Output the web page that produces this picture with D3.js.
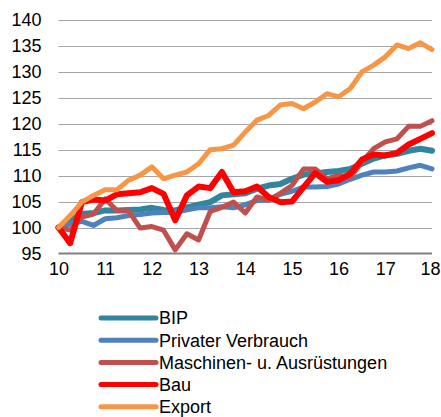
<!DOCTYPE html>
<html>
<head>
<meta charset="utf-8">
<script src="https://cdn.jsdelivr.net/npm/d3@7"></script>
<style>
  body { margin: 0; background: #fff; }
  text { font-family: "Liberation Sans", Arial, sans-serif; fill: #000; }
</style>
</head>
<body>
<div id="chart"></div>
<script>
// quarterly index, 2010 = 100
const yearTicks = [10, 11, 12, 13, 14, 15, 16, 17, 18];
const yTicks = [95, 100, 105, 110, 115, 120, 125, 130, 135, 140];
const seriesNames = ['BIP', 'Privater Verbrauch', 'Maschinen- u. Ausrüstungen', 'Bau', 'Export'];
const seriesColors = ['#31859c', '#4f81bd', '#c0504d', '#ff0000', '#f79646'];

const bip = [100, 101.4, 102.6, 102.8, 103.3, 103.3, 103.4, 103.5, 103.8, 103.4, 103.3, 103.9, 104.4, 104.9, 106.2,
  106.4, 106.6, 107.5, 108.1, 108.4, 109.4, 110.2, 110.4, 110.7, 110.9, 111.3, 112.3, 113.3, 113.9, 114.2, 114.8, 115.2, 114.8];
const privat = [100, 100.7, 101.2, 100.4, 101.7, 101.9, 102.3, 102.5, 102.8, 102.9, 102.9, 103.4, 103.8, 103.8, 104.0,
  103.8, 104.4, 105.2, 105.3, 106.4, 107.0, 107.8, 107.8, 107.9, 108.4, 109.3, 110.1, 110.7, 110.7, 110.9, 111.5, 112.0, 111.3];
const maschinen = [100, 99.5, 102.0, 102.6, 105.5, 103.3, 103.2, 99.9, 100.2, 99.5, 95.7, 98.8, 97.6, 103.1, 103.9,
  104.9, 102.8, 105.9, 105.3, 106.6, 108.1, 111.3, 111.3, 109.4, 110.1, 109.7, 112.6, 115.2, 116.5, 117.1, 119.5, 119.5, 120.6];
const bau = [100, 97.0, 104.9, 105.4, 105.2, 106.4, 106.6, 106.8, 107.6, 106.5, 101.4, 106.2, 107.9, 107.6, 110.7,
  106.8, 107.0, 107.9, 105.9, 104.9, 105.0, 107.8, 110.5, 108.8, 109.1, 110.4, 113.1, 114.1, 113.9, 114.4, 116.0, 117.1, 118.2];
const exportVals = [100, 102.3, 104.9, 106.2, 107.3, 107.3, 109.1, 110.1, 111.7, 109.4, 110.1, 110.7, 112.3, 115.0, 115.2,
  115.9, 118.4, 120.7, 121.6, 123.6, 123.9, 122.9, 124.2, 125.8, 125.2, 126.8, 130.0, 131.3, 132.9, 135.2, 134.5, 135.6, 134.3];

const seriesValues = [bip, privat, maschinen, bau, exportVals];

const width = 441;
const height = 417;
const margin = { top: 20, right: 9, bottom: 164, left: 58.5 };

const svg = d3.select('#chart').append('svg')
  .attr('width', width)
  .attr('height', height);

const xScale = d3.scaleLinear()
  .domain([10, 18])
  .range([margin.left, width - margin.right]);

const yScale = d3.scaleLinear()
  .domain([95, 140])
  .range([height - margin.bottom + 0.5, margin.top]);

// gridlines
svg.append('g')
  .selectAll('line')
  .data(yTicks.filter(d => d > 95))
  .join('line')
  .attr('x1', xScale(10))
  .attr('x2', xScale(18))
  .attr('y1', d => Math.round(yScale(d)) + 0.5)
  .attr('y2', d => Math.round(yScale(d)) + 0.5)
  .attr('stroke', '#a6a6a6')
  .attr('stroke-width', 1);

// y axis labels
const yAxis = d3.axisLeft(yScale).tickValues(yTicks).tickSize(0).tickPadding(17);
svg.append('g')
  .attr('transform', `translate(${margin.left},0)`)
  .call(yAxis)
  .call(g => g.select('.domain').remove())
  .call(g => g.selectAll('text').style('font-size', '18px').attr('fill', '#000'));

// x axis
const xAxis = d3.axisBottom(xScale).tickValues(yearTicks).tickSize(0).tickPadding(9);
svg.append('g')
  .attr('transform', `translate(0,${yScale(95)})`)
  .call(xAxis)
  .call(g => g.select('.domain').remove())
  .call(g => g.selectAll('text').style('font-size', '18px').attr('fill', '#000'))
  // last label sits against the right edge
  .call(g => g.selectAll('.tick').filter(d => d === 18).select('text').attr('dx', -2));

svg.append('line')
  .attr('x1', xScale(10))
  .attr('x2', xScale(18))
  .attr('y1', yScale(95))
  .attr('y2', yScale(95))
  .attr('stroke', '#808080')
  .attr('stroke-width', 2);

const line = d3.line()
  .x((d, i) => xScale(10 + i / 4))
  .y(d => yScale(d));

const widths = [6, 5, 5, 6, 5];

svg.append('g')
  .selectAll('path')
  .data(seriesValues)
  .join('path')
  .attr('fill', 'none')
  .attr('stroke', (d, i) => seriesColors[i])
  .attr('stroke-width', (d, i) => widths[i])
  .attr('stroke-linejoin', 'round')
  .attr('stroke-linecap', 'round')
  .attr('d', line);

// legend
const legend = svg.append('g')
  .attr('transform', 'translate(101,318)');

const rows = legend.selectAll('g')
  .data(seriesNames)
  .join('g')
  .attr('transform', (d, i) => `translate(0,${i * 22.2})`);

rows.append('line')
  .attr('x1', 0)
  .attr('x2', 55)
  .attr('stroke', (d, i) => seriesColors[i])
  .attr('stroke-width', 5)
  .attr('stroke-linecap', 'round');

rows.append('text')
  .attr('x', 58)
  .attr('y', 0)
  .attr('dy', '0.35em')
  .style('font-size', '18px')
  .text(d => d);
</script>
</body>
</html>
